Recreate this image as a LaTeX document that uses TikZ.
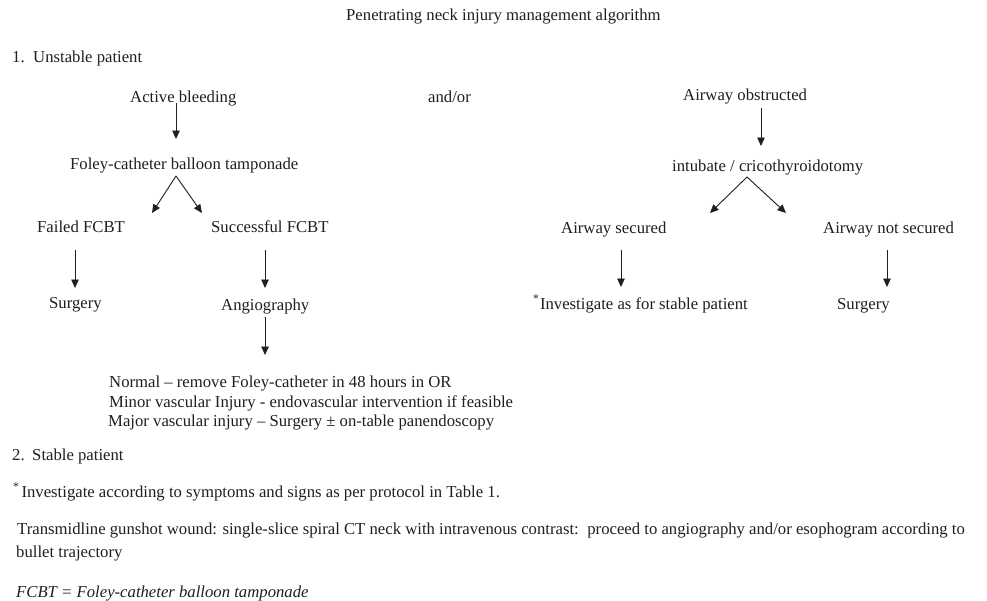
\documentclass[tikz,border=0pt]{standalone}
\usepackage{fontspec}
\setmainfont{Liberation Serif}
\usetikzlibrary{arrows.meta}
\begin{document}
\begin{tikzpicture}[x=1pt,y=-1pt,
  txt/.style={anchor=base west,inner sep=0pt,font=\fontsize{16.7}{19.5}\selectfont,text=black!88},
  arr/.style={-{Triangle[length=8.5pt,width=7.5pt]},line width=0.9pt,draw=black!88}]
\useasboundingbox (0,0) rectangle (987,600);
% title and section heads
\node[txt] (title) at (346,20) {Penetrating neck injury management algorithm};
\node[txt] (s1) at (12,62) {1.\hspace{8.5pt}Unstable patient};
% left branch
\node[txt] (ab) at (130,102) {Active bleeding};
\node[txt] (andor) at (428,102) {and/or};
\node[txt] (fcbt) at (70,169) {Foley-catheter balloon tamponade};
\node[txt] (failed) at (37,232) {Failed FCBT};
\node[txt] (succ) at (211,232) {Successful FCBT};
\node[txt] (surg1) at (49,308) {Surgery};
\node[txt] (angio) at (221,310) {Angiography};
\node[txt,align=left,anchor=north west] (outc) at (108,376) {%
\hspace{1pt}Normal – remove Foley-catheter in 48 hours in OR\\
\hspace{1pt}Minor vascular Injury - endovascular intervention if feasible\\
Major vascular injury – Surgery ± on-table panendoscopy};
% right branch
\node[txt] (ao) at (683,100) {Airway obstructed};
\node[txt] (intub) at (672,171) {intubate / cricothyroidotomy};
\node[txt] (as) at (561,233) {Airway secured};
\node[txt] (ans) at (823,233) {Airway not secured};
\node[txt] (inv) at (533,309) {\textsuperscript{*}\hspace{0.5pt}Investigate as for stable patient};
\node[txt] (surg2) at (837,309) {Surgery};
% bottom notes
\node[txt] (s2) at (12,460) {2.\hspace{7.5pt}Stable patient};
\node[txt] (foot) at (13,497) {\textsuperscript{*}\hspace{2pt}Investigate according to symptoms and signs as per protocol in Table 1.};
\node[txt] (trans) at (17,534) {Transmidline gunshot wound: single-slice spiral CT neck with intravenous contrast:\hspace{3pt} proceed to angiography and/or esophogram according to};
\node[txt] (bullet) at (16,557) {bullet trajectory};
\node[txt] (abbr) at (16,597) {\itshape FCBT = Foley-catheter balloon tamponade};
% arrow end points
\coordinate (a1s) at (176,103); \coordinate (a1e) at (176,139);
\coordinate (f1) at (176,176); \coordinate (f1l) at (152,213); \coordinate (f1r) at (202,213);
\coordinate (a2s) at (75,250); \coordinate (a2e) at (75,288);
\coordinate (a3s) at (265,250); \coordinate (a3e) at (265,288);
\coordinate (a4s) at (265,317); \coordinate (a4e) at (265,355);
\coordinate (b1s) at (761,108); \coordinate (b1e) at (761,146);
\coordinate (f2) at (747,177); \coordinate (f2l) at (710,213); \coordinate (f2r) at (786,213);
\coordinate (b2s) at (621,250); \coordinate (b2e) at (621,287);
\coordinate (b3s) at (887,250); \coordinate (b3e) at (887,287);
% connectors
\draw[arr] (a1s) -- (a1e);
\draw[arr] (f1) -- (f1l);
\draw[arr] (f1) -- (f1r);
\draw[arr] (a2s) -- (a2e);
\draw[arr] (a3s) -- (a3e);
\draw[arr] (a4s) -- (a4e);
\draw[arr] (b1s) -- (b1e);
\draw[arr] (f2) -- (f2l);
\draw[arr] (f2) -- (f2r);
\draw[arr] (b2s) -- (b2e);
\draw[arr] (b3s) -- (b3e);
\end{tikzpicture}
\end{document}
